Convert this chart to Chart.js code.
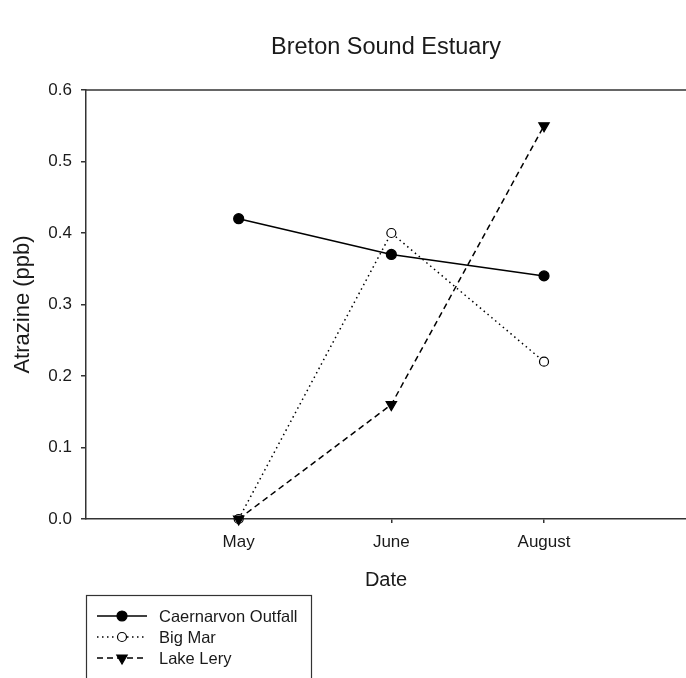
<!DOCTYPE html>
<html>
<head>
<meta charset="utf-8">
<script src="https://cdn.jsdelivr.net/npm/chart.js@4/dist/chart.umd.min.js"></script>
<style>
  html, body { margin: 0; padding: 0; background: #fff; overflow: hidden; }
  canvas { display: block; }
</style>
</head>
<body>
<canvas id="c" width="686" height="678"></canvas>
<script>
// Sampling dates and atrazine concentrations (ppb) per site
const months = ['May', 'June', 'August'];
const seriesNames = ['Caernarvon Outfall', 'Big Mar', 'Lake Lery'];
const caernarvonOutfall = [0.42, 0.37, 0.34];
const bigMar = [0.0, 0.40, 0.22];
const lakeLery = [0.0, 0.16, 0.55];
const yTicks = [0.0, 0.1, 0.2, 0.3, 0.4, 0.5, 0.6];

const FONT = "'Liberation Sans', Arial, sans-serif";
const INK = '#1a1a1a';
const AXIS = '#333333';

const toPoints = vals => vals.map((v, i) => ({ x: i + 1, y: v }));

const styles = [
  { dash: [], pointStyle: 'circle', radius: 5, fill: '#000', rotation: 0, order: 1 },
  { dash: [1.5, 3.5], pointStyle: 'circle', radius: 4.5, fill: '#fff', rotation: 0, order: 2 },
  { dash: [6, 4], pointStyle: 'triangle', radius: 6, fill: '#000', rotation: 180, order: 0 }
];
const values = [caernarvonOutfall, bigMar, lakeLery];

const datasets = values.map((vals, k) => ({
  label: seriesNames[k],
  data: toPoints(vals),
  order: styles[k].order,
  borderColor: '#000',
  borderWidth: 1.5,
  borderDash: styles[k].dash,
  pointStyle: styles[k].pointStyle,
  pointRotation: styles[k].rotation,
  pointRadius: styles[k].radius,
  pointBackgroundColor: styles[k].fill,
  pointBorderColor: '#000',
  pointBorderWidth: 1.2,
  tension: 0,
  fill: false,
  clip: false
}));

// Title, top frame line and boxed legend drawn on the canvas
const decorations = {
  id: 'decorations',
  afterDraw(chart) {
    const { ctx, chartArea } = chart;
    ctx.save();
    // top frame line
    ctx.strokeStyle = AXIS;
    ctx.lineWidth = 1.5;
    ctx.beginPath();
    ctx.moveTo(chartArea.left, chartArea.top);
    ctx.lineTo(chart.width, chartArea.top);
    ctx.stroke();

    // title
    ctx.fillStyle = INK;
    ctx.font = `23.5px ${FONT}`;
    ctx.textAlign = 'center';
    ctx.textBaseline = 'middle';
    ctx.fillText('Breton Sound Estuary', (chartArea.left + chartArea.right) / 2, 48);

    // legend box
    const bx = 86, by = 595, bw = 225, bh = 100;
    ctx.lineWidth = 1.2;
    ctx.strokeStyle = '#333';
    ctx.strokeRect(bx + 0.5, by + 0.5, bw, bh);

    ctx.font = `16.5px ${FONT}`;
    ctx.textAlign = 'left';
    chart.data.datasets.forEach((ds, k) => {
      const y = 616 + k * 21;
      ctx.strokeStyle = '#000';
      ctx.lineWidth = 1.5;
      ctx.setLineDash(ds.borderDash);
      ctx.beginPath();
      ctx.moveTo(97, y);
      ctx.lineTo(147, y);
      ctx.stroke();
      ctx.setLineDash([]);
      ctx.fillStyle = ds.pointBackgroundColor;
      ctx.strokeStyle = '#000';
      ctx.lineWidth = ds.pointBorderWidth;
      Chart.helpers.drawPoint(ctx, {
        pointStyle: ds.pointStyle,
        rotation: ds.pointRotation,
        radius: ds.pointRadius,
        borderWidth: ds.pointBorderWidth
      }, 122, y);
      ctx.fillStyle = INK;
      ctx.fillText(ds.label, 159, y + 1);
    });
    ctx.restore();
  }
};

new Chart(document.getElementById('c'), {
  type: 'line',
  data: { datasets },
  options: {
    responsive: false,
    animation: false,
    layout: { autoPadding: false, padding: { top: 90, left: 0, right: 0, bottom: 79 } },
    plugins: {
      legend: { display: false },
      title: { display: false },
      tooltip: { enabled: false }
    },
    scales: {
      x: {
        type: 'linear',
        min: 0,
        max: 3.93,
        afterBuildTicks: s => { s.ticks = months.map((m, i) => ({ value: i + 1 })); },
        afterFit: s => { s.height = 80; s.paddingLeft = 0; s.paddingRight = 0; },
        ticks: {
          callback: v => months[v - 1] || '',
          color: INK,
          font: { family: FONT, size: 17 },
          padding: 9,
          maxRotation: 0,
          autoSkip: false
        },
        grid: { drawOnChartArea: false, drawTicks: true, tickLength: 4, color: AXIS, lineWidth: 1.5 },
        border: { display: true, color: AXIS, width: 1.5 },
        title: {
          display: true,
          text: 'Date',
          color: INK,
          font: { family: FONT, size: 20 },
          padding: { top: 0, bottom: 7 }
        }
      },
      y: {
        min: 0,
        max: 0.6,
        afterBuildTicks: s => { s.ticks = yTicks.map(v => ({ value: v })); },
        afterFit: s => { s.width = 86; s.paddingTop = 0; s.paddingBottom = 0; },
        ticks: {
          callback: v => v.toFixed(1),
          color: INK,
          font: { family: FONT, size: 17 },
          padding: 9
        },
        grid: { drawOnChartArea: false, drawTicks: true, tickLength: 5, color: AXIS, lineWidth: 1.5 },
        border: { display: true, color: AXIS, width: 1.5 },
        title: {
          display: true,
          text: 'Atrazine (ppb)',
          color: INK,
          font: { family: FONT, size: 22 },
          padding: { top: 9.5, bottom: 0 }
        }
      }
    }
  },
  plugins: [decorations]
});
</script>
</body>
</html>
